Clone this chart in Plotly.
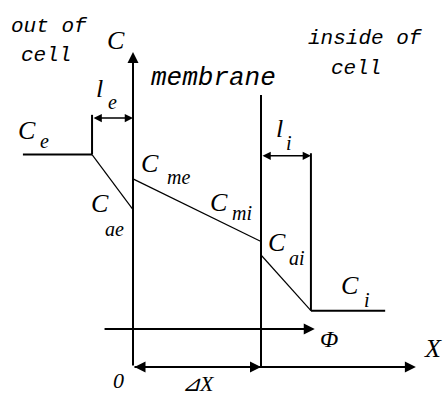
import plotly.graph_objects as go

# Positions along X in units of membrane thickness (membrane spans 0..1)
x_bulk_out = -0.86      # left end of the outer bulk level
x_le = -0.32            # edge of outer unstirred layer
x_li = 1.39             # edge of inner unstirred layer
x_bulk_in = 1.97        # right end of the inner bulk level
x_axis_end = 2.21
phi_start, phi_end = -0.234, 1.42

# Concentrations (arbitrary units)
c_e = 1.66
c_ae = 1.23
c_me = 1.47
c_mi = 0.98
c_ai = 0.875
c_i = 0.44
c_axis_top = 2.46
c_membrane_top = 2.125
c_le_top = 1.97
c_le_arrow = 1.945
c_li_top = 1.67
c_li_arrow = 1.65
c_phi = 0.297

W, H = 446, 396
SCALE = 128.0
X0_PX, Y0_PX = 133, 367
x_range = [-X0_PX / SCALE, (W - X0_PX) / SCALE]
y_range = [(Y0_PX - H) / SCALE, Y0_PX / SCALE]

fig = go.Figure()

def line(xs, ys, width):
    fig.add_trace(go.Scatter(x=xs, y=ys, mode="lines",
                             line=dict(color="black", width=width),
                             hoverinfo="skip", showlegend=False))

# concentration profile
line([x_bulk_out, x_le], [c_e, c_e], 2)
line([x_le, 0], [c_e, c_ae], 1.2)
line([0, 1], [c_me, c_mi], 1.2)
line([1, x_li], [c_ai, c_i], 1.2)
line([x_li, x_bulk_in], [c_i, c_i], 2)

# unstirred layer boundaries
line([x_le, x_le], [c_e, c_le_top], 2)
line([x_li, x_li], [c_li_top, c_i], 2)

# membrane inner face
line([1, 1], [0, c_membrane_top], 2)

def arrow(x0, y0, x1, y1, both=False, width=2):
    fig.add_annotation(x=x1, y=y1, ax=x0, ay=y0, xref="x", yref="y",
                       axref="x", ayref="y", text="", showarrow=True,
                       arrowhead=2, startarrowhead=2, arrowsize=1.1,
                       startarrowsize=1.1, arrowwidth=width,
                       arrowside="end+start" if both else "end",
                       arrowcolor="black", standoff=0, startstandoff=0)

# axes
arrow(0, 0, 0, c_axis_top)
arrow(0, 0, x_axis_end, 0)
arrow(0, 0, 1, 0, both=True)
arrow(phi_start, c_phi, phi_end, c_phi)
# layer thickness brackets
arrow(x_le, c_le_arrow, 0, c_le_arrow, both=True, width=1.5)
arrow(1, c_li_arrow, x_li, c_li_arrow, both=True, width=1.5)

def label(x, y, s, size, family="Liberation Serif"):
    fig.add_annotation(x=x, y=y, xref="x", yref="y", text=s, showarrow=False,
                       xanchor="center", yanchor="middle",
                       font=dict(family=family, size=size, color="black",
                                 style="italic"))

WORD = "Liberation Mono"
label(-0.65, 2.66, "out of", 21, WORD)
label(-0.68, 2.43, "cell", 21, WORD)
label(1.82, 2.57, "inside of", 21, WORD)
label(1.74, 2.33, "cell", 21, WORD)
label(0.63, 2.26, "membrane", 26, WORD)

label(-0.133, 2.547, "C", 26)
label(-0.828, 1.844, "C", 26)
label(-0.695, 1.766, "e", 20)
label(-0.258, 2.172, "l", 26)
label(-0.164, 2.07, "e", 20)
label(0.133, 1.586, "C", 26)
label(0.359, 1.484, "me", 20)
label(0.672, 1.289, "C", 26)
label(0.852, 1.203, "mi", 20)
label(-0.258, 1.281, "C", 26)
label(-0.141, 1.078, "ae", 20)
label(1.125, 0.969, "C", 26)
label(1.281, 0.852, "ai", 20)
label(1.141, 1.867, "l", 26)
label(1.219, 1.75, "i", 20)
label(1.695, 0.633, "C", 26)
label(1.828, 0.523, "i", 20)
label(1.531, 0.219, "Φ", 24)
label(2.344, 0.148, "X", 26)
label(-0.117, -0.109, "0", 22)
label(0.508, -0.13, "⊿X", 22)

fig.update_xaxes(range=x_range, visible=False, fixedrange=True)
fig.update_yaxes(range=y_range, visible=False, fixedrange=True)
fig.update_layout(width=W, height=H, margin=dict(l=0, r=0, t=0, b=0),
                  paper_bgcolor="white", plot_bgcolor="white",
                  showlegend=False)

fig.write_html("out.html", config={"displayModeBar": False})
